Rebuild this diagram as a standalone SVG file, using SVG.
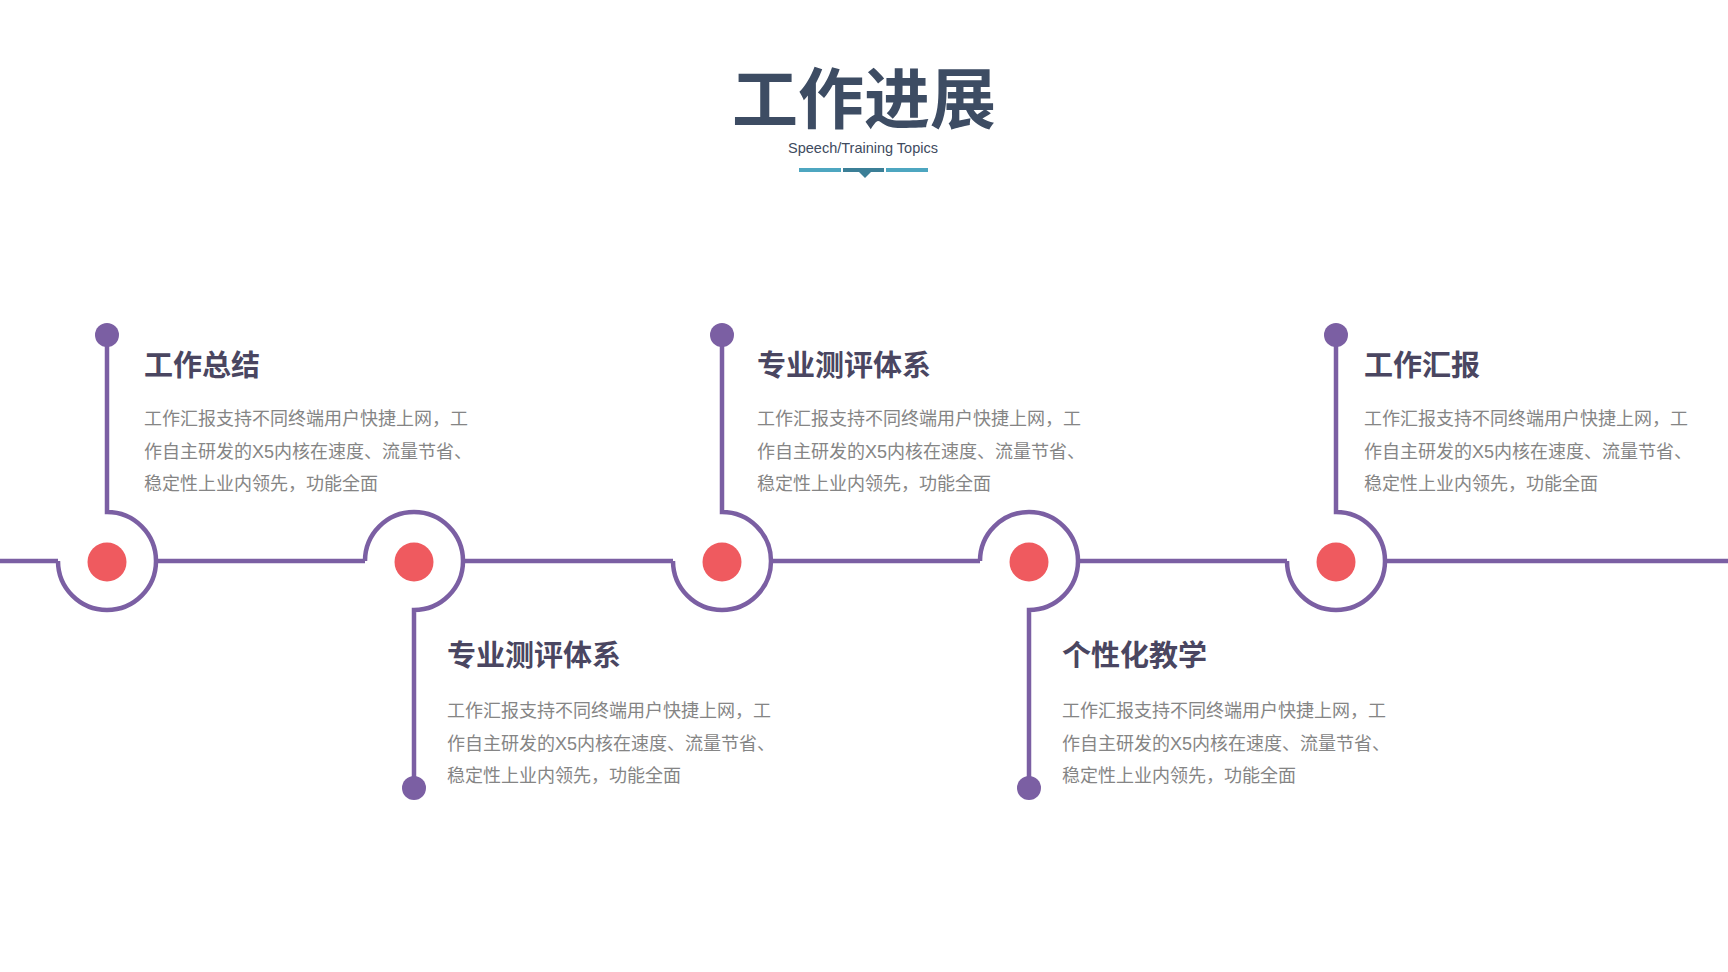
<svg xmlns="http://www.w3.org/2000/svg" width="1728" height="972" viewBox="0 0 1728 972">
<style>
.bg{fill:#ffffff}
.line{fill:none;stroke:#7b5fa3;stroke-width:4.5;stroke-linecap:butt}
.end{fill:#7b5fa3}
.core{fill:#ef5a5f}
.main{font-family:"Noto Sans CJK SC","Liberation Sans",sans-serif;font-weight:700;font-size:66px;fill:#3d4c63}
.sub{font-family:"Liberation Sans","Noto Sans CJK SC",sans-serif;font-size:14.5px;fill:#404b5e}
.ttl{font-family:"Noto Sans CJK SC","Liberation Sans",sans-serif;font-weight:700;font-size:29px;fill:#4a4661}
.body{font-family:"Liberation Sans","Noto Sans CJK SC",sans-serif;font-size:18px;fill:#858585}
</style>
<rect class="bg" x="0" y="0" width="1728" height="972"/>
<g id="header">
<text class="main" x="864" y="123" text-anchor="middle">工作进展</text>
<text class="sub" x="863" y="153" text-anchor="middle">Speech/Training Topics</text>
<rect x="799" y="168" width="42" height="4" fill="#4da6c0"/>
<rect x="843" y="168" width="41" height="4" fill="#3b7f97"/>
<rect x="886" y="168" width="42" height="4" fill="#4da6c0"/>
<polygon points="858,171 872,171 865,178" fill="#3b7f97"/>
</g>
<g id="connectors">
<line class="line" x1="0" y1="561" x2="58" y2="561"/>
<line class="line" x1="156" y1="561" x2="365" y2="561"/>
<line class="line" x1="463" y1="561" x2="673" y2="561"/>
<line class="line" x1="771" y1="561" x2="980" y2="561"/>
<line class="line" x1="1078" y1="561" x2="1287" y2="561"/>
<line class="line" x1="1385" y1="561" x2="1728" y2="561"/>
</g>
<g id="node1">
<path class="line" d="M107,335 L107,512 A49,49 0 1 1 58,561"/>
<circle class="end" cx="107" cy="335" r="12"/>
<circle class="core" cx="107" cy="562" r="19.5"/>
<text class="ttl" x="144" y="375.5">工作总结</text>
<text class="body" x="144" y="425">工作汇报支持不同终端用户快捷上网，工</text>
<text class="body" x="144" y="458">作自主研发的X5内核在速度、流量节省、</text>
<text class="body" x="144" y="490">稳定性上业内领先，功能全面</text>
</g>
<g id="node2">
<path class="line" d="M365,561 A49,49 0 1 1 414,610 L414,788"/>
<circle class="end" cx="414" cy="788" r="12"/>
<circle class="core" cx="414" cy="562" r="19.5"/>
<text class="ttl" x="447" y="666">专业测评体系</text>
<text class="body" x="447" y="717">工作汇报支持不同终端用户快捷上网，工</text>
<text class="body" x="447" y="749.5">作自主研发的X5内核在速度、流量节省、</text>
<text class="body" x="447" y="782">稳定性上业内领先，功能全面</text>
</g>
<g id="node3">
<path class="line" d="M722,335 L722,512 A49,49 0 1 1 673,561"/>
<circle class="end" cx="722" cy="335" r="12"/>
<circle class="core" cx="722" cy="562" r="19.5"/>
<text class="ttl" x="757" y="375.5">专业测评体系</text>
<text class="body" x="757" y="425">工作汇报支持不同终端用户快捷上网，工</text>
<text class="body" x="757" y="458">作自主研发的X5内核在速度、流量节省、</text>
<text class="body" x="757" y="490">稳定性上业内领先，功能全面</text>
</g>
<g id="node4">
<path class="line" d="M980,561 A49,49 0 1 1 1029,610 L1029,788"/>
<circle class="end" cx="1029" cy="788" r="12"/>
<circle class="core" cx="1029" cy="562" r="19.5"/>
<text class="ttl" x="1062" y="666">个性化教学</text>
<text class="body" x="1062" y="717">工作汇报支持不同终端用户快捷上网，工</text>
<text class="body" x="1062" y="749.5">作自主研发的X5内核在速度、流量节省、</text>
<text class="body" x="1062" y="782">稳定性上业内领先，功能全面</text>
</g>
<g id="node5">
<path class="line" d="M1336,335 L1336,512 A49,49 0 1 1 1287,561"/>
<circle class="end" cx="1336" cy="335" r="12"/>
<circle class="core" cx="1336" cy="562" r="19.5"/>
<text class="ttl" x="1364" y="375.5">工作汇报</text>
<text class="body" x="1364" y="425">工作汇报支持不同终端用户快捷上网，工</text>
<text class="body" x="1364" y="458">作自主研发的X5内核在速度、流量节省、</text>
<text class="body" x="1364" y="490">稳定性上业内领先，功能全面</text>
</g>
</svg>
